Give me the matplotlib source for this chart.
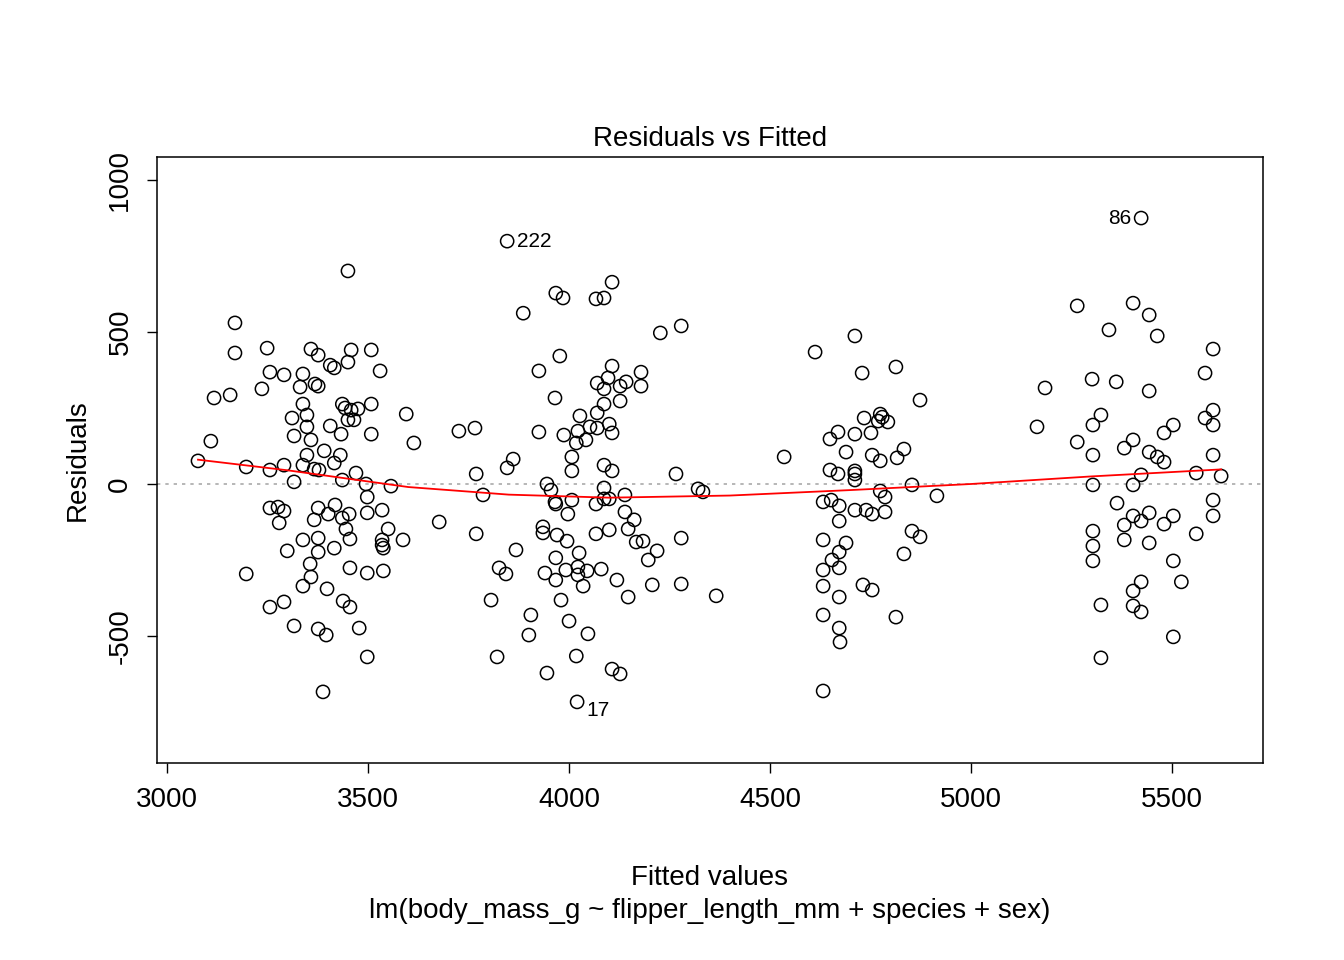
import numpy as np
import matplotlib.pyplot as plt

fitted = [
    3077, 3109, 3117, 3157, 3169, 3169, 3197, 3197, 3236, 3249, 3256, 3256, 3256, 3256, 3276, 3279,
    3291, 3291, 3291, 3291, 3299, 3311, 3316, 3316, 3316, 3331, 3338, 3338, 3338, 3338, 3338, 3348,
    3348, 3348, 3356, 3358, 3358, 3358, 3366, 3366, 3368, 3376, 3376, 3376, 3376, 3376, 3376, 3378,
    3388, 3391, 3396, 3398, 3401, 3406, 3406, 3416, 3416, 3416, 3418, 3431, 3433, 3436, 3436, 3436,
    3438, 3443, 3445, 3450, 3450, 3450, 3453, 3455, 3455, 3455, 3458, 3458, 3465, 3470, 3475, 3478,
    3495, 3498, 3498, 3498, 3498, 3508, 3508, 3508, 3530, 3535, 3535, 3535, 3538, 3538, 3550, 3557,
    3587, 3595, 3614, 3677,
    3726, 3766, 3769, 3769, 3786, 3806, 3821, 3826, 3843, 3846, 3846, 3861, 3868, 3886, 3900, 3905,
    3925, 3925, 3935, 3935, 3940, 3945, 3945, 3955, 3965, 3965, 3967, 3967, 3967, 3967, 3970, 3977,
    3980, 3985, 3987, 3992, 3995, 3997, 4000, 4007, 4007, 4007, 4018, 4018, 4020, 4022, 4022, 4022,
    4025, 4027, 4035, 4042, 4045, 4047, 4052, 4067, 4067, 4067, 4070, 4070, 4070, 4080, 4087, 4087,
    4087, 4087, 4087, 4087, 4097, 4100, 4100, 4100, 4107, 4107, 4107, 4107, 4107, 4119, 4127, 4127,
    4127, 4139, 4139, 4142, 4147, 4147, 4162, 4167, 4179, 4179, 4184, 4197, 4207, 4219, 4227, 4266,
    4279, 4279, 4279, 4321, 4333, 4366,
    4535, 4612, 4632, 4632, 4632, 4632, 4632, 4632, 4649, 4649, 4652, 4654, 4669, 4669, 4672, 4672,
    4672, 4672, 4672, 4672, 4674, 4689, 4689, 4711, 4711, 4711, 4711, 4711, 4711, 4729, 4731, 4734,
    4739, 4751, 4754, 4754, 4754, 4769, 4774, 4774, 4774, 4779, 4786, 4786, 4793, 4813, 4813, 4816,
    4833, 4833, 4853, 4853, 4873, 4873, 4915,
    5164, 5184, 5264, 5264, 5301, 5303, 5303, 5303, 5303, 5303, 5303, 5323, 5323, 5323, 5343, 5361,
    5363, 5381, 5381, 5381, 5403, 5403, 5403, 5403, 5403, 5403, 5423, 5423, 5423, 5423, 5423, 5443,
    5443, 5443, 5443, 5443, 5463, 5463, 5480, 5480, 5480, 5503, 5503, 5503, 5503, 5523, 5560, 5560,
    5582, 5582, 5602, 5602, 5602, 5602, 5602, 5602, 5622,
]
residuals = [
    76, 141, 283, 293, 530, 431, 56, -296, 313, 447, 368, 46, -79, -405, -76, -128,
    359, 62, -89, -388, -220, 217, 158, 7, -467, 319, 362, 263, 62, -184, -336, 227,
    188, 95, -263, -306, 444, 145, 49, -118, 329, 322, 424, -79, -224, -477, -178, 46,
    -684, 109, -497, -345, -99, 391, 191, 382, 69, -211, -69, 95, 164, 263, -112, 13,
    -385, 250, -148, 701, 211, 401, -99, -181, -276, -405, 441, 243, 211, 36, 247, -474,
    0, -43, -95, -293, -569, 441, 263, 164, 372, -86, -201, -184, -211, -286, -148, -7,
    -184, 230, 135, -125,
    174, 184, 33, -164, -36, -382, -569, -276, -296, 799, 53, 82, -217, 562, -497, -431,
    372, 171, -141, -161, -293, 0, -622, -20, -59, 283, 628, -66, -316, -243, -168, 421,
    -382, 612, 161, -283, -188, -99, -451, -53, 89, 43, 135, -566, -717, 174, -273, -299,
    -227, 224, -336, 145, -286, -493, 188, 609, -66, -164, 332, 234, 184, -280, 612, 313,
    263, 62, -13, -49, 349, 197, -49, -151, 388, 664, 168, 43, -609, -316, 273, 322,
    -625, -36, -92, 336, -148, -372, -118, -191, 368, 322, -188, -250, -332, -220, 497, 33,
    520, -178, -329, -16, -26, -368,
    89, 434, -59, -184, -283, -336, -431, -681, 148, 46, -53, -250, 171, 33, -72, -122,
    -224, -276, -372, -474, -520, -194, 105, 487, 164, 43, 33, 13, -86, 365, -332, 217,
    -86, 168, 95, -349, -99, 207, 230, 76, -23, 220, -43, -92, 204, 385, -438, 86,
    115, -230, -155, -3, -174, 276, -39,
    188, 316, 586, 138, 345, 194, 95, -3, -155, -204, -253, 227, -398, -572, 507, 336,
    -63, 118, -135, -184, 595, 145, -3, -105, -352, -401, 875, 30, -122, -322, -421, 556,
    306, 105, -95, -194, 487, 89, 168, 72, -132, 194, -105, -253, -503, -322, 36, -164,
    365, 217, 444, 243, 194, 95, -53, -105, 26,
]

smooth_x = [3077, 3300, 3600, 3850, 4100, 4400, 4700, 5000, 5300, 5622]
smooth_y = [80, 45, -10, -35, -45, -38, -20, 0, 25, 48]

labels = ["222", "17", "86"]
label_pts = [(3846, 799), (4020, -717), (5423, 875)]

plt.rcParams['font.family'] = ['Liberation Sans', 'DejaVu Sans']
plt.rcParams['axes.unicode_minus'] = False
fig = plt.figure(figsize=(13.44, 9.6), dpi=100)
ax = fig.add_axes([0.1168, 0.2052, 0.8229, 0.6313])

ax.axhline(0, color='#aaaaaa', linestyle=(0, (2, 3)), linewidth=1.2, zorder=1)
ax.scatter(fitted, residuals, s=90, facecolors='none', edgecolors='black', linewidths=1.1, zorder=2)
ax.plot(smooth_x, smooth_y, color='red', linewidth=1.3, zorder=3)

ax.annotate(labels[0], label_pts[0], xytext=(7, 0), textcoords='offset points', fontsize=15, va='center', ha='left')
ax.annotate(labels[1], label_pts[1], xytext=(7, -6), textcoords='offset points', fontsize=15, va='center', ha='left')
ax.annotate(labels[2], label_pts[2], xytext=(-7, 0), textcoords='offset points', fontsize=15, va='center', ha='right')

ax.set_xlim(2975, 5726)
ax.set_ylim(-918, 1076)
ax.set_xticks([3000, 3500, 4000, 4500, 5000, 5500])
ax.set_yticks([-500, 0, 500, 1000])
ax.tick_params(labelsize=20, length=7, width=1, pad=10)
for t in ax.get_yticklabels():
    t.set_rotation(90)
    t.set_va('center')
for s in ax.spines.values():
    s.set_linewidth(1.1)

ax.set_title("Residuals vs Fitted", fontsize=20, pad=8)
ax.set_ylabel("Residuals", fontsize=20, labelpad=12)
ax.set_xlabel("Fitted values\nlm(body_mass_g ~ flipper_length_mm + species + sex)",
              fontsize=20, labelpad=38, linespacing=1.35)

fig.savefig("out.png", dpi=100)
